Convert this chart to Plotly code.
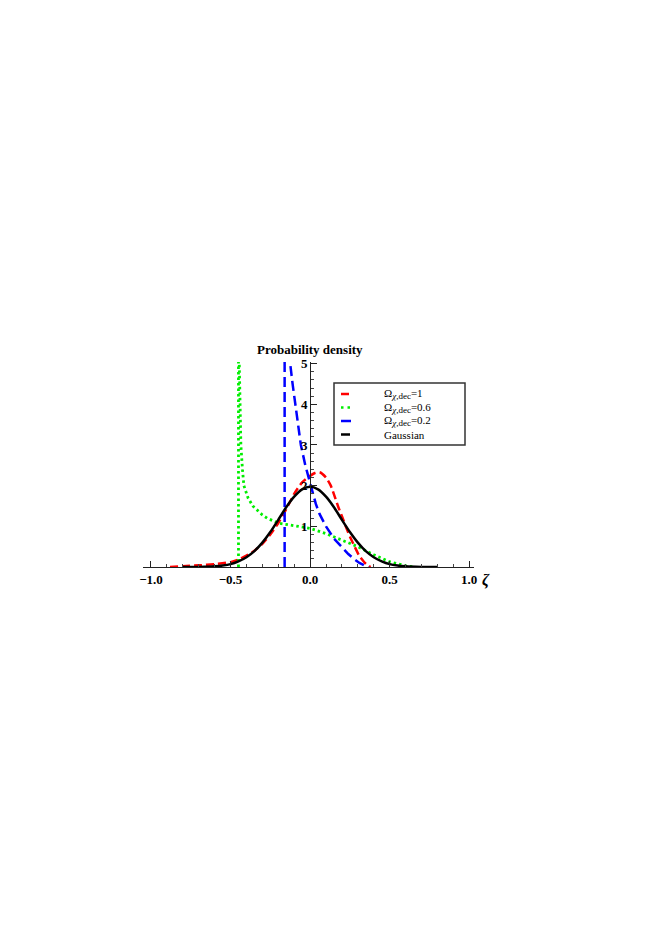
import plotly.graph_objects as go

# readings
zeta_red = [-0.88, -0.8, -0.7, -0.6, -0.5, -0.45, -0.4, -0.35, -0.3, -0.25, -0.2, -0.15,
            -0.1, -0.05, 0.0, 0.03, 0.06, 0.1, 0.13, 0.175, 0.2, 0.227, 0.25, 0.28,
            0.31, 0.35, 0.38]
dens_red = [0.0, 0.02, 0.04, 0.07, 0.12, 0.18, 0.28, 0.4, 0.57, 0.8, 1.08, 1.42,
            1.8, 2.08, 2.24, 2.31, 2.33, 2.2, 2.0, 1.5, 1.25, 0.97, 0.75, 0.5,
            0.27, 0.08, 0.0]

zeta_green = [-0.45, -0.45, -0.445, -0.44, -0.435, -0.425, -0.416, -0.39, -0.36,
              -0.3, -0.27, -0.2, -0.1, 0.0, 0.1, 0.2, 0.3, 0.4, 0.47, 0.5, 0.6, 0.66]
dens_green = [0.0, 6.0, 5.0, 4.0, 3.0, 2.4, 2.0, 1.7, 1.5,
              1.28, 1.2, 1.08, 1.01, 0.95, 0.82, 0.66, 0.5, 0.3, 0.18, 0.13, 0.03, 0.0]

zeta_blue = [-0.16, -0.16, -0.14, -0.125, -0.11, -0.094, -0.075, -0.058, -0.03,
             0.0, 0.036, 0.06, 0.1, 0.15, 0.2, 0.24, 0.275, 0.31, 0.34, 0.37]
dens_blue = [0.0, 8.0, 6.5, 5.0, 4.5, 4.0, 3.5, 3.0, 2.5,
             2.06, 1.55, 1.3, 1.0, 0.7, 0.48, 0.32, 0.2, 0.1, 0.04, 0.0]

zeta_gauss = [-0.8, -0.7, -0.6, -0.55, -0.5, -0.45, -0.4, -0.35, -0.3, -0.25, -0.2, -0.15,
              -0.1, -0.05, 0.0, 0.05, 0.1, 0.15, 0.2, 0.25, 0.3, 0.35, 0.4, 0.45,
              0.5, 0.55, 0.6, 0.7, 0.8]
dens_gauss = [0.0, 0.003, 0.016, 0.035, 0.07, 0.14, 0.24, 0.39, 0.6, 0.86, 1.16, 1.47,
              1.73, 1.91, 1.97, 1.91, 1.73, 1.47, 1.16, 0.86, 0.6, 0.39, 0.24, 0.14,
              0.07, 0.035, 0.016, 0.003, 0.0]

sub = "<sub><span style='font-size:9px'><i>χ</i>,dec</span></sub>"
names = ["Ω" + sub + "=1", "Ω" + sub + "=0.6", "Ω" + sub + "=0.2", "Gaussian"]
colors = ["#ff0000", "#00ee00", "#0000ff", "black"]

serif = "Liberation Serif"

fig = go.Figure()
fig.add_trace(go.Scatter(x=zeta_red, y=dens_red, mode="lines", name=names[0],
                         line=dict(color=colors[0], width=2.5, dash="8px,4px", shape="spline",
                                   smoothing=0.6)))
fig.add_trace(go.Scatter(x=zeta_green, y=dens_green, mode="lines", name=names[1],
                         line=dict(color=colors[1], width=2.8, dash="2.5px,3px")))
fig.add_trace(go.Scatter(x=zeta_blue, y=dens_blue, mode="lines", name=names[2],
                         line=dict(color=colors[2], width=2.5, dash="10px,5px")))
fig.add_trace(go.Scatter(x=zeta_gauss, y=dens_gauss, mode="lines", name=names[3],
                         line=dict(color=colors[3], width=2.5, shape="spline", smoothing=0.6)))

x_lo, x_hi = -1.05, 1.03
fig.update_layout(
    width=662, height=936,
    paper_bgcolor="white", plot_bgcolor="white",
    margin=dict(l=135, r=196, t=354, b=377),
    font=dict(family=serif, color="black"),
    showlegend=False,
    xaxis=dict(range=[x_lo, x_hi], showgrid=False, zeroline=False,
               showline=True, linecolor="#222", linewidth=1.2,
               tickvals=[-1.0, -0.5, 0.0, 0.5, 1.0], ticktext=["−1.0", "−0.5", "0.0", "0.5", "1.0"],
               ticks="inside", ticklen=6, tickcolor="#222",
               tickfont=dict(family=serif, size=13, weight="bold"),
               minor=dict(ticks="inside", dtick=0.1, ticklen=3, tickcolor="#444")),
    yaxis=dict(range=[0, 5.04], showgrid=False, zeroline=False,
               anchor="free", position=(0 - x_lo) / (x_hi - x_lo),
               showline=True, linecolor="#222", linewidth=1.2,
               tickvals=[1, 2, 3, 4, 5], ticks="inside", ticklen=6, tickcolor="#222",
               tickfont=dict(family=serif, size=13, weight="bold"),
               minor=dict(ticks="inside", dtick=0.2, ticklen=3, tickcolor="#444")),
)

fig.add_annotation(text="<b>Probability density</b>", xref="x", yref="paper",
                   x=0.0, y=1.0, yshift=3, xanchor="center", yanchor="bottom",
                   showarrow=False, font=dict(family=serif, size=13))
fig.add_annotation(text="<b><i>ζ</i></b>", xref="paper", yref="y",
                   x=1.0, y=0, xshift=6, yshift=-2, xanchor="left", yanchor="top",
                   showarrow=False, font=dict(family=serif, size=16))

# hand-drawn legend box (the plotly legend rows are too tall for this layout)
plot_w, plot_h = 662 - 135 - 196, 936 - 354 - 377


def px(dx):
    return dx / plot_w


def py(dy):
    return 1 - dy / plot_h


box_left, box_top = 191, 21          # offsets from the plot's top-left corner
box_w, box_h = 131, 62
fig.add_shape(type="rect", xref="paper", yref="paper",
              x0=px(box_left), x1=px(box_left + box_w), y0=py(box_top), y1=py(box_top + box_h),
              line=dict(color="#333", width=1.5), fillcolor="white", layer="above")
sample_dash = ["solid", "2.5px,4px", "solid", "solid"]
sample_len = [8, 12, 10, 9]
for i, name in enumerate(names):
    row_y = py(box_top + 11 + i * 13.5)
    fig.add_shape(type="line", xref="paper", yref="paper",
                  x0=px(box_left + 7), x1=px(box_left + 7 + sample_len[i]), y0=row_y, y1=row_y,
                  line=dict(color=colors[i], width=2.5, dash=sample_dash[i]), layer="above")
    fig.add_annotation(text=name, xref="paper", yref="paper", x=px(box_left + 48), y=row_y,
                       xanchor="left", yanchor="middle", showarrow=False,
                       font=dict(family=serif, size=11))

fig.write_html("out.html")
